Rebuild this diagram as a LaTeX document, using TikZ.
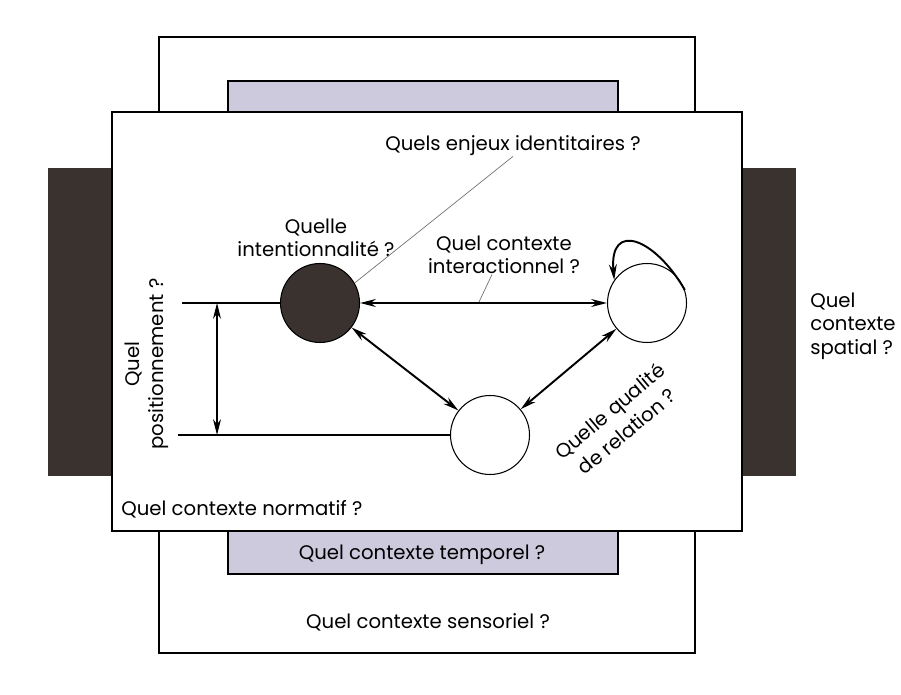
\documentclass[tikz,border=0pt]{standalone}
\usepackage{xcolor}
\usepackage{fontspec}
\setmainfont{Poppins}
\usepackage{tikz}
\usetikzlibrary{arrows.meta}
\definecolor{lavgrey}{RGB}{206,202,222}
\definecolor{bardark}{RGB}{58,50,47}

\begin{document}
\begin{tikzpicture}[x=0.02cm, y=-0.02cm,
				>={Stealth[length=9pt, width=4.5pt]},
				lbl/.style={font=\fontsize{11.2}{13.4}\selectfont, align=center, inner sep=0pt},
				sheet/.style={draw, line width=1pt, fill=white},
				ball/.style={circle, draw, line width=0.6pt, fill=white, minimum size=1.58cm, inner sep=0pt},
				leader/.style={draw=black!55, line width=0.4pt},
				link/.style={<->, line width=1.1pt}]
				\useasboundingbox (0,0) rectangle (901,695);
				\draw[sheet] (159,37) rectangle (695,653);
				\draw[sheet, fill=lavgrey] (228,81) rectangle (618,574);
				\fill[bardark] (48,168) rectangle (120,476);
				\fill[bardark] (735,168) rectangle (796,476);
				\draw[sheet] (112,112) rectangle (742,531);
				\node at (320,303) (ego) [ball, fill=bardark] {};
				\node at (647,303) (alter) [ball] {};
				\node at (490,435) (tiers) [ball] {};
				\node at (513,146) (enjeux) [lbl] {Quels enjeux identitaires ?};
				\node at (316,238) (intention) [lbl] {Quelle\\intentionnalité ?};
				\node at (504,255) (interaction) [lbl] {Quel contexte\\interactionnel ?};
				\node at (810,326) (spatial) [lbl, align=left, anchor=west] {Quel\\contexte\\spatial ?};
				\node at (147,364) (position) [lbl, rotate=90] {Quel\\positionnement ?};
				\node at (618,421) (qualite) [lbl, rotate=40, font=\fontsize{11.2}{15}\selectfont] {Quelle qualité\\de relation ?};
				\node at (121,515) (normatif) [lbl, anchor=base west] {Quel contexte normatif ?};
				\node at (422,559) (temporel) [lbl, anchor=base] {Quel contexte temporel ?};
				\node at (428,628) (sensoriel) [lbl, anchor=base] {Quel contexte sensoriel ?};
				\coordinate (ltop) at (182,303);
				\coordinate (lbot) at (178,435);
				\coordinate (vtop) at (217,303);
				\coordinate (vbot) at (217,435);
				\coordinate (tick) at (479,302);
				\draw[link] (ego) -- (alter);
				\draw[link] (ego) -- (tiers);
				\draw[link] (tiers) -- (alter);
				\draw[->, line width=1.1pt] (alter.19) .. controls +(120:1.2cm) and +(95:1.2cm) .. (alter.145);
				\draw[line width=0.8pt] (ltop) -- (ego);
				\draw[line width=0.8pt] (lbot) -- (tiers);
				\draw[<->, line width=0.6pt] (vtop) -- (vbot);
				\draw[leader] (ego.30) -- (enjeux.south);
				\draw[leader] ([xshift=-0.24cm]interaction.south) -- (tick);
			\end{tikzpicture}
\end{document}
